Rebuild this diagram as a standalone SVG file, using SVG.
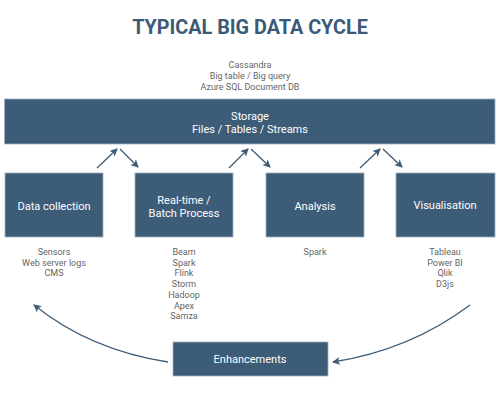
<svg xmlns="http://www.w3.org/2000/svg" width="500" height="400" viewBox="0 0 500 400">
<defs>
<style>
.box{fill:#3d5c78;stroke:#9fb0c0;stroke-width:0.8}
.bt{font-family:Roboto,"Liberation Sans",sans-serif;font-size:11px;fill:#ffffff;text-anchor:middle}
.nt{font-family:Roboto,"Liberation Sans",sans-serif;font-size:9px;fill:#666666;text-anchor:middle}
.ar{stroke:#3d5c78;stroke-width:1.3;fill:none;marker-end:url(#ah)}
</style>
<marker id="ah" markerWidth="10" markerHeight="10" refX="7" refY="4" orient="auto" markerUnits="userSpaceOnUse">
<path d="M0,0 L8,4 L0,8 L2,4 Z" fill="#3d5c78"/>
</marker>
</defs>
<rect width="500" height="400" fill="#ffffff"/>
<text x="250" y="34" text-anchor="middle" font-family="Roboto,'Liberation Sans',sans-serif" font-weight="bold" font-size="19.8" fill="#3b5a77">TYPICAL BIG DATA CYCLE</text>
<g id="storage">
<text class="nt" x="250" y="68">Cassandra</text>
<text class="nt" x="250" y="79">Big table / Big query</text>
<text class="nt" x="250" y="89.5">Azure SQL Document DB</text>
<rect class="box" x="4.5" y="99" width="490.5" height="45"/>
<text class="bt" x="250" y="120">Storage</text>
<text class="bt" x="250" y="133">Files / Tables / Streams</text>
</g>
<g id="data-collection">
<rect class="box" x="5" y="173" width="98" height="64"/>
<text class="bt" x="54" y="210">Data collection</text>
<text class="nt" x="54" y="255">Sensors</text>
<text class="nt" x="54" y="265.5">Web server logs</text>
<text class="nt" x="54" y="276">CMS</text>
</g>
<g id="processing">
<rect class="box" x="135" y="173" width="98" height="64"/>
<text class="bt" x="184" y="204">Real-time /</text>
<text class="bt" x="184" y="217">Batch Process</text>
<text class="nt" x="184" y="255">Beam</text>
<text class="nt" x="184" y="265.5">Spark</text>
<text class="nt" x="184" y="276">Flink</text>
<text class="nt" x="184" y="287">Storm</text>
<text class="nt" x="184" y="298">Hadoop</text>
<text class="nt" x="184" y="309">Apex</text>
<text class="nt" x="184" y="319">Samza</text>
</g>
<g id="analysis">
<rect class="box" x="266" y="173" width="98" height="64"/>
<text class="bt" x="315" y="210">Analysis</text>
<text class="nt" x="315" y="255">Spark</text>
</g>
<g id="visualisation">
<rect class="box" x="396" y="173" width="99" height="64"/>
<text class="bt" x="445" y="209">Visualisation</text>
<text class="nt" x="445" y="255">Tableau</text>
<text class="nt" x="445" y="265.5">Power BI</text>
<text class="nt" x="445" y="276">Qlik</text>
<text class="nt" x="445" y="287">D3js</text>
</g>
<g id="enhancements">
<rect class="box" x="173" y="342" width="155" height="34"/>
<text class="bt" x="250" y="363">Enhancements</text>
</g>
<g id="connectors">
<line class="ar" x1="97" y1="168" x2="117" y2="149"/>
<line class="ar" x1="120" y1="149" x2="138" y2="167"/>
<line class="ar" x1="229" y1="168" x2="248" y2="149"/>
<line class="ar" x1="251" y1="149" x2="270" y2="167"/>
<line class="ar" x1="360" y1="168" x2="380" y2="149"/>
<line class="ar" x1="383" y1="149" x2="402" y2="167"/>
<path class="ar" d="M168,362 Q90,350 34,305"/>
<path class="ar" d="M470,305 Q410,350 333,362"/>
</g>
</svg>
